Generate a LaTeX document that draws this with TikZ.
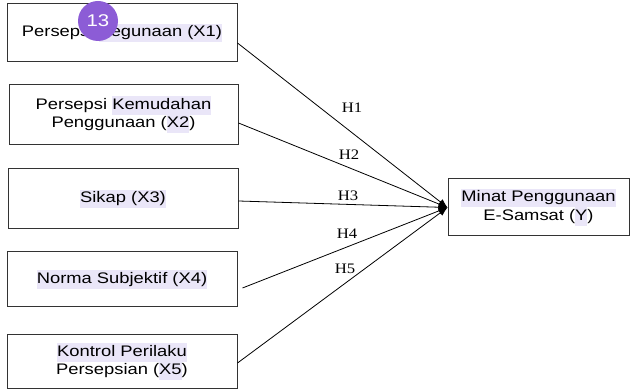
\documentclass[tikz,border=0pt]{standalone}
\usepackage{fontspec}
\setmainfont{Liberation Sans}[FakeStretch=1.2]
\newfontfamily\hypfont{Liberation Serif}[FakeStretch=1.15]
\usepackage{tikz}
\usetikzlibrary{arrows.meta}

\definecolor{hlpurple}{RGB}{234,230,248}
\definecolor{badgepurple}{RGB}{140,92,214}
\newcommand{\hlt}[1]{{\setlength{\fboxsep}{0pt}\colorbox{hlpurple}{\strut #1}}}

\begin{document}
\begin{tikzpicture}[x=1pt,y=-1pt,
  varbox/.style={draw=black!80, line width=1pt, minimum width=230pt, align=center,
    font=\fontsize{15.3}{18.5}\selectfont},
  hyp/.style={-{Latex[length=9pt,width=7pt]}, line width=0.8pt},
  hlabel/.style={font=\hypfont\fontsize{14.5}{16}\selectfont}]
\useasboundingbox (0,0) rectangle (630,390);

% Independent variables
\node[varbox, minimum height=58pt] (x1) at (122,33) {Persepsi \hlt{Kegunaan (X1)}};
\node[varbox, minimum width=229pt, minimum height=60pt] (x2) at (123.5,115) {Persepsi \hlt{Kemudahan}\\Penggunaan (\hlt{X2})};
\node[varbox, minimum height=60pt] (x3) at (123,199) {\hlt{Sikap (X3)}};
\node[varbox, minimum height=55pt] (x4) at (122,279.5) {\hlt{Norma Subjektif (X4)}};
\node[varbox, minimum height=54pt] (x5) at (122,362) {\hlt{Kontrol Perilaku}\\Persepsian (\hlt{X5})};

% Dependent variable
\node[varbox, minimum width=181pt, minimum height=57pt] (y) at (538.5,207.5) {\hlt{Minat Penggunaan}\\E-Samsat (\hlt{Y})};

% Badge
\node[circle, fill=badgepurple, minimum size=40pt, inner sep=0pt, text=white,
  font=\fontsize{17}{19}\selectfont] (badge) at (98,21) {13};

% Hypotheses
\draw[hyp] ([yshift=-10pt]x1.east) -- (y.west);
\draw[hyp] ([yshift=-8pt]x2.east) -- (y.west);
\draw[hyp] ([yshift=-2pt]x3.east) -- (y.west);
\draw[hyp] ([xshift=5pt,yshift=-8.5pt]x4.east) -- (y.west);
\draw[hyp] ([yshift=-1pt]x5.east) -- (y.west);

\node[hlabel] (h1) at (352,108) {H1};
\node[hlabel] (h2) at (349,155) {H2};
\node[hlabel] (h3) at (348,196) {H3};
\node[hlabel] (h4) at (347,234) {H4};
\node[hlabel] (h5) at (345,269) {H5};
\end{tikzpicture}
\end{document}
